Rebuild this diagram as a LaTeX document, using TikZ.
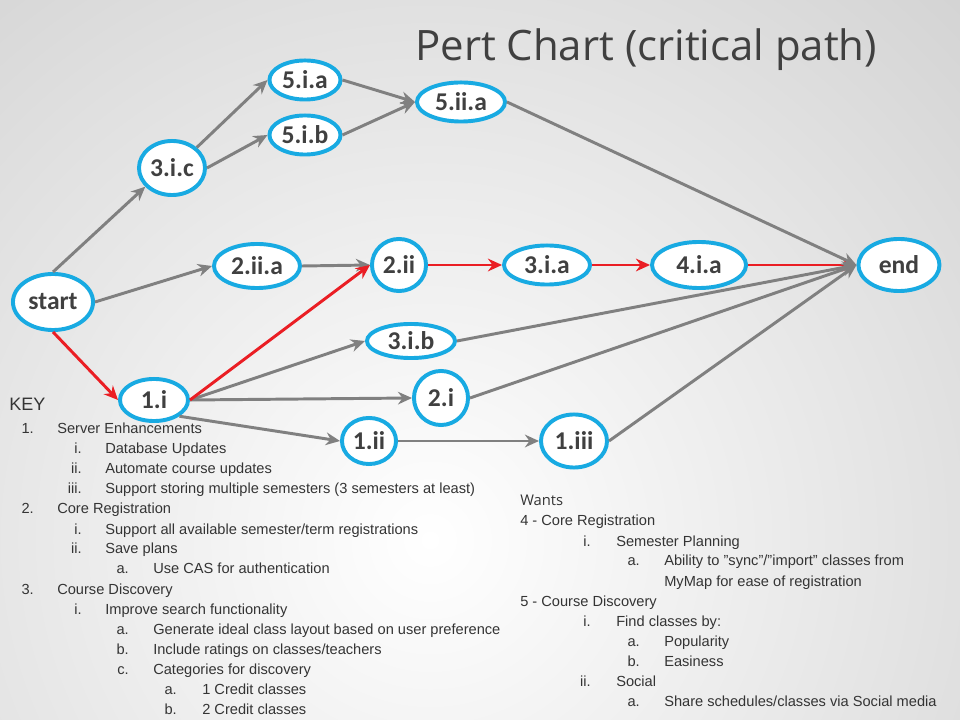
\documentclass[tikz,border=0pt]{standalone}
\usepackage{fontspec}
\setmainfont{Liberation Sans}
\newfontfamily\labelfont{Carlito}
\newfontfamily\headfont{Open Sans}
\usepackage{tikz}
\usetikzlibrary{shapes.geometric, arrows.meta, positioning}
\definecolor{pertblue}{RGB}{24,170,226}
\definecolor{pertgray}{RGB}{128,128,128}
\definecolor{pertred}{RGB}{234,30,36}
\definecolor{inkgray}{RGB}{64,64,64}
\definecolor{keygray}{RGB}{52,52,52}

\begin{document}
\begin{tikzpicture}[x=0.025cm, y=-0.025cm,
  task/.style={ellipse, draw=pertblue, line width=2.8pt, fill=white, inner sep=0pt,
               font=\labelfont\bfseries\fontsize{18.2}{20}\selectfont, text=inkgray},
  esize/.style 2 args={minimum width=#1*0.025cm-2.8pt, minimum height=#2*0.025cm-2.8pt},
  flow/.style={-{Stealth[length=10pt,width=9pt]}, line width=2.1pt, pertgray},
  crit/.style={-{Stealth[length=10pt,width=9pt]}, line width=2.1pt, pertred},
  keyline/.style={font=\fontsize{10.4}{12}\selectfont, text=keygray, inner sep=0pt},
]

% page and background
\useasboundingbox (0,0) rectangle (960,720);
\begin{scope}
  \clip (0,0) rectangle (960,720);
  \shade[inner color=white, outer color=black!17] (430,540) circle (19cm);
\end{scope}

\node[anchor=base west, inner sep=0pt, text=inkgray,
      font=\headfont\fontsize{29.8}{31}\selectfont] (title) at (415,61)
  {Pert Chart (critical path)};

% tasks
\node[task, esize={84}{60}] (start) at (53,302) {start};
\node[task, esize={70}{58}] (n3ic)  at (172,168) {3.i.c};
\node[task, esize={75}{43}] (n5ia)  at (305,80) {5.i.a};
\node[task, esize={75}{43}, below=0.3cm of n5ia] (n5ib) {5.i.b};
\node[task, esize={92}{43}] (n5iia) at (461,102) {5.ii.a};
\node[task, esize={90}{48}] (n2iia) at (257,266) {2.ii.a};
\node[task, esize={58}{56}] (n2ii)  at (399,265) {2.ii};
\node[task, esize={90}{43}, right=1.85cm of n2ii] (n3ia) {3.i.a};
\node[task, esize={98}{50}, right=1.45cm of n3ia] (n4ia) {4.i.a};
\node[task, esize={85}{56}, right=2.71cm of n4ia] (finish) {end};
\node[task, esize={92}{38}] (n3ib)  at (411,341) {3.i.b};
\node[task, esize={72}{46}] (n1i)   at (154,400) {1.i};
\node[task, esize={58}{58}] (n2i)   at (441,398) {2.i};
\node[task, esize={58}{50}] (n1ii)  at (369,441) {1.ii};
\node[task, esize={70}{57}] (n1iii) at (574,441) {1.iii};

% connectors
\draw[flow] (start.north) -- (n3ic.215);
\draw[flow] (n3ic.north east) -- (n5ia.west);
\draw[flow] (n3ic.east) -- (n5ib.west);
\draw[flow] (n5ia.east) -- (n5iia.west);
\draw[flow] (n5ib.east) -- (n5iia.west);
\draw[flow] (start.east) -- (n2iia.west);
\draw[flow] (n2iia.east) -- (n2ii.west);
\draw[flow] (n1i.east) -- (n3ib.west);
\draw[flow] (n1i.east) -- (n2i.west);
\draw[flow] (n1i.south east) -- (n1ii.west);
\draw[flow] (n1ii.east) -- (n1iii.west);
% critical path
\draw[crit] (start.south) -- (n1i.west);
\draw[crit] (n1i.east) -- (n2ii.west);
\draw[crit] (n2ii.east) -- (n3ia.west);
\draw[crit] (n3ia.east) -- (n4ia.west);
\draw[crit] (n4ia.east) -- (finish.west);
\draw[flow] (n5iia.east) -- (finish.west);
\draw[flow] (n3ib.east) -- (finish.west);
\draw[flow] (n2i.east) -- (finish.west);
\draw[flow] (n1iii.east) -- (finish.west);

% key
\node[keyline, anchor=base west, font=\fontsize{12.8}{14}\selectfont] (keyhead) at (9,411) {KEY};
\foreach \yy/\lx/\lbl/\tx/\txt [count=\k] in {
    434/34/1./57/Server Enhancements,
    454/82/i./105/Database Updates,
    474/82/ii./105/Automate course updates,
    494/82/iii./105/Support storing multiple semesters (3 semesters at least),
    514/34/2./57/Core Registration,
    534/82/i./105/{Support all available semester/term registrations},
    554/82/ii./105/Save plans,
    574/129/a./153/Use CAS for authentication,
    594/34/3./57/Course Discovery,
    614/82/i./105/Improve search functionality,
    634/129/a./153/Generate ideal class layout based on user preference,
    654/129/b./153/{Include ratings on classes/teachers},
    674/129/c./153/Categories for discovery,
    694/177/a./202/1 Credit classes,
    714/177/b./202/2 Credit classes} {
  \node[keyline, anchor=base east] (kl\k) at (\lx,\yy) {\lbl};
  \node[keyline, anchor=base west] (kt\k) at (\tx,\yy) {\txt};
}

% wants
\node[keyline, anchor=base west, font=\headfont\fontsize{10.5}{12}\selectfont] (wanthead) at (520,505) {Wants};
\foreach \yy/\lx/\lbl/\tx/\txt [count=\k] in {
    526/520//520/4 - Core Registration,
    546/591/i./616/Semester Planning,
    566/640/a./664/{Ability to "sync"/"import" classes from},
    586/640//664/MyMap for ease of registration,
    606/520//520/5 - Course Discovery,
    626/591/i./616/Find classes by:,
    646/640/a./664/Popularity,
    666/640/b./664/Easiness,
    686/591/ii./616/Social,
    706/640/a./664/{Share schedules/classes via Social media}} {
  \node[keyline, anchor=base east] (wl\k) at (\lx,\yy) {\lbl};
  \node[keyline, anchor=base west] (wt\k) at (\tx,\yy) {\txt};
}

\end{tikzpicture}
\end{document}
